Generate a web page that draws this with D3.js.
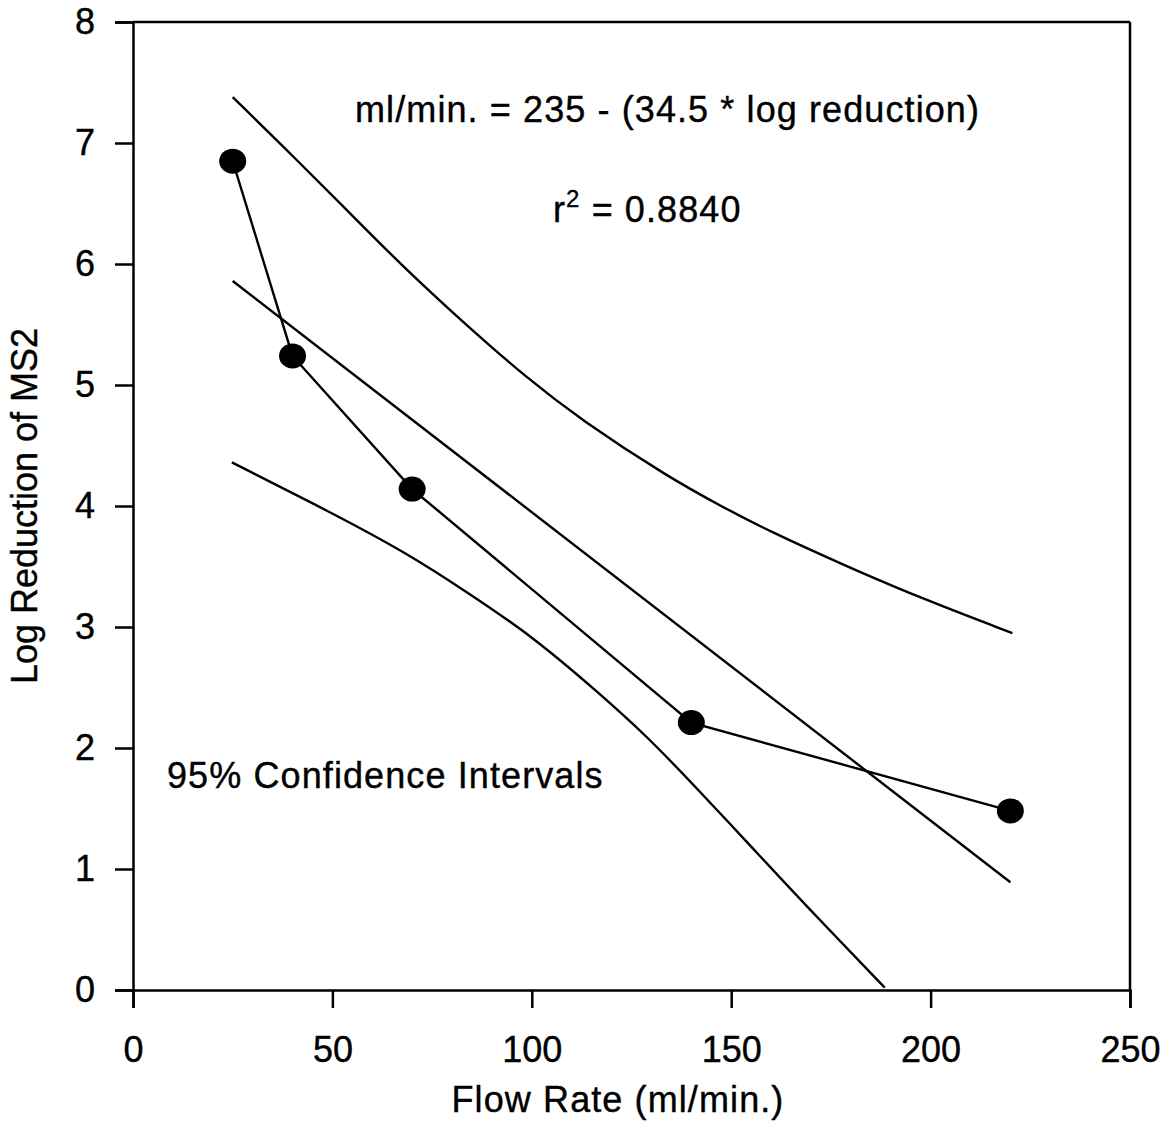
<!DOCTYPE html>
<html>
<head>
<meta charset="utf-8">
<script src="https://cdn.jsdelivr.net/npm/d3@7"></script>
<style>
  html, body { margin: 0; padding: 0; background: #fff; }
  svg { display: block; }
  text { font-family: "Liberation Sans", Arial, sans-serif; fill: #000; stroke: #000; stroke-width: 0.4px; }
</style>
</head>
<body>
<svg id="chart" width="1175" height="1147"></svg>
<script>
// ---- Data ----
const flowRate = [25, 40, 70, 140, 220];
const logReduction = [6.85, 5.24, 4.14, 2.21, 1.48];

const regressionX = [25, 220];
const regressionY = [5.86, 0.89];

const upperCIX = [25, 42, 54.4, 67, 83.7, 98.7, 112, 134.6, 148, 159, 179, 199.7, 220.5];
const upperCIY = [7.38, 6.83, 6.42, 6.00, 5.49, 5.06, 4.72, 4.23, 3.99, 3.80, 3.50, 3.21, 2.95];

const lowerCIX = [24.8, 50.1, 68.7, 83.7, 100.3, 117, 128.8, 141.3, 154.6, 167.2, 188.5];
const lowerCIY = [4.36, 3.94, 3.61, 3.29, 2.92, 2.45, 2.10, 1.67, 1.20, 0.75, 0.02];

const xTicks = [0, 50, 100, 150, 200, 250];
const yTicks = [0, 1, 2, 3, 4, 5, 6, 7, 8];

const xTitle = "Flow Rate (ml/min.)";
const yTitle = "Log Reduction of MS2";
const equationText = "ml/min. = 235 - (34.5 * log reduction)";
const ciLabel = "95% Confidence Intervals";

// ---- Layout ----
const svg = d3.select("#chart");
const mLeft = 133, mRight = 1130, mTop = 22, mBottom = 990;

const x = d3.scaleLinear().domain([0, 250]).range([mLeft, mRight]);
const y = d3.scaleLinear().domain([0, 8]).range([mBottom, mTop]);

const fontSize = 36;
const spacing = 1.1;

// Frame (top and right)
svg.append("line").attr("x1", mLeft).attr("x2", mRight).attr("y1", mTop).attr("y2", mTop)
  .attr("stroke", "#000").attr("stroke-width", 2.5);
svg.append("line").attr("x1", mRight).attr("x2", mRight).attr("y1", mTop).attr("y2", mBottom)
  .attr("stroke", "#000").attr("stroke-width", 2.5);

// Axes
const xAxis = d3.axisBottom(x).tickValues(xTicks).tickSize(18).tickPadding(28).tickFormat(d3.format("d"));
const yAxis = d3.axisLeft(y).tickValues(yTicks).tickSize(18).tickPadding(20).tickFormat(d3.format("d"));

const gx = svg.append("g").attr("transform", `translate(0,${mBottom})`).call(xAxis);
const gy = svg.append("g").attr("transform", `translate(${mLeft},0)`).call(yAxis);

[gx, gy].forEach(g => {
  g.select(".domain").attr("stroke", "#000").attr("stroke-width", 2.5);
  g.selectAll(".tick line").attr("stroke", "#000").attr("stroke-width", 2.5);
  g.selectAll(".tick text").attr("font-size", fontSize)
    .attr("font-family", "'Liberation Sans', Arial, sans-serif").attr("fill", "#000");
});

// Axis titles
svg.append("text").attr("x", 618).attr("y", 1112).attr("text-anchor", "middle")
  .attr("font-size", fontSize).attr("letter-spacing", spacing).text(xTitle);
svg.append("text").attr("transform", `translate(37,${(mTop + mBottom) / 2}) rotate(-90)`)
  .attr("text-anchor", "middle").attr("font-size", fontSize).text(yTitle);

// Lines
const line = d3.line().x(d => x(d[0])).y(d => y(d[1]));
const curve = d3.line().x(d => x(d[0])).y(d => y(d[1])).curve(d3.curveBasis);

svg.append("path").datum(d3.zip(upperCIX, upperCIY)).attr("d", curve)
  .attr("fill", "none").attr("stroke", "#000").attr("stroke-width", 2.4);
svg.append("path").datum(d3.zip(lowerCIX, lowerCIY)).attr("d", curve)
  .attr("fill", "none").attr("stroke", "#000").attr("stroke-width", 2.4);
svg.append("path").datum(d3.zip(regressionX, regressionY)).attr("d", line)
  .attr("fill", "none").attr("stroke", "#000").attr("stroke-width", 2.4);
svg.append("path").datum(d3.zip(flowRate, logReduction)).attr("d", line)
  .attr("fill", "none").attr("stroke", "#000").attr("stroke-width", 2.4);

// Points
svg.selectAll("ellipse.pt").data(d3.zip(flowRate, logReduction)).join("ellipse")
  .attr("class", "pt")
  .attr("cx", d => x(d[0])).attr("cy", d => y(d[1]))
  .attr("rx", 13.5).attr("ry", 12.5).attr("fill", "#000");

// Annotations
svg.append("text").attr("x", 355).attr("y", 122).attr("font-size", fontSize)
  .attr("letter-spacing", spacing).text(equationText);
const r2 = svg.append("text").attr("x", 553).attr("y", 222).attr("font-size", fontSize)
  .attr("letter-spacing", spacing);
r2.append("tspan").text("r");
r2.append("tspan").attr("font-size", 24).attr("dy", -15).text("2");
r2.append("tspan").attr("dy", 15).text(" = 0.8840");

svg.append("text").attr("x", 167).attr("y", 788).attr("font-size", fontSize)
  .attr("letter-spacing", spacing).text(ciLabel);
</script>
</body>
</html>
